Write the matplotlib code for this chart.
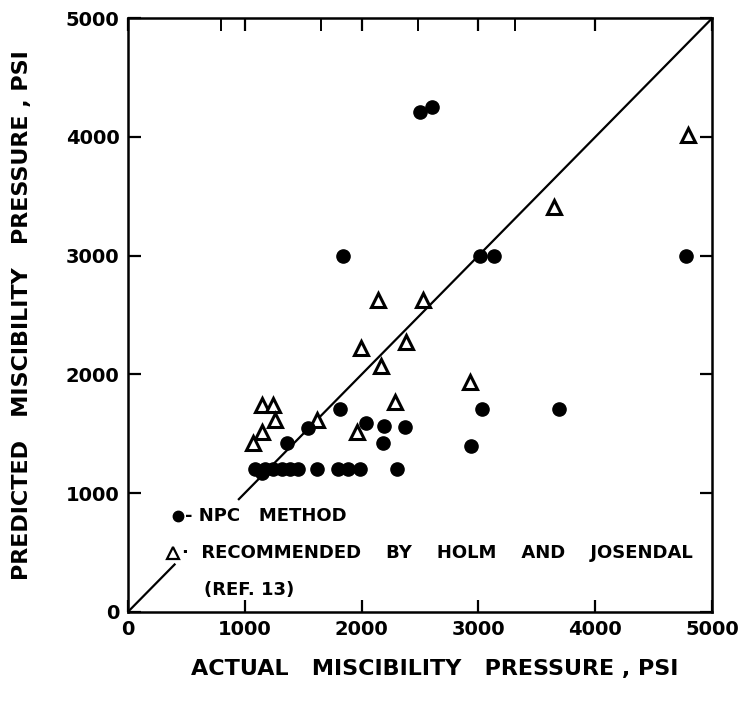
import matplotlib
matplotlib.use("Agg")
import matplotlib.pyplot as plt

# NPC method: actual vs predicted miscibility pressure (psi)
npc_actual = [1840, 2500, 2600, 3010, 3130, 4780,
              3030, 3690, 2940, 1815, 1540, 1360, 2040, 2190, 2370, 2180,
              1090, 1150, 1170, 1240, 1320, 1390, 1460, 1620, 1800, 1880, 1990, 2300]
npc_pred = [3000, 4210, 4250, 3000, 3000, 3000,
            1710, 1710, 1400, 1710, 1550, 1420, 1590, 1570, 1560, 1420,
            1200, 1170, 1200, 1200, 1200, 1200, 1200, 1200, 1200, 1200, 1200, 1200]

# Recommended by Holm and Josendal
hj_actual = [1150, 1240, 1260, 1150, 1070, 1620, 1960, 2290,
             2140, 2530, 1995, 2380, 2165, 2930, 3650, 4790]
hj_pred = [1740, 1740, 1620, 1515, 1420, 1620, 1515, 1770,
           2630, 2630, 2220, 2270, 2070, 1935, 3410, 4015]

ticks = [0, 1000, 2000, 3000, 4000, 5000]
diag_breaks = [(0, 400), (950, 5000)]

plt.rcParams['font.family'] = 'DejaVu Sans'
plt.rcParams['font.weight'] = 'bold'

fig = plt.figure(figsize=(7.52, 7.01), dpi=100)
ax = fig.add_axes([0.170, 0.127, 0.777, 0.847])

# 1:1 line, broken where the key text sits
for a, b in diag_breaks:
    ax.plot([a, b], [a, b], color='black', lw=1.6, zorder=1)

ax.plot(npc_actual, npc_pred, 'o', color='black', markersize=9.5, zorder=3)
ax.plot(hj_actual, hj_pred, '^', markerfacecolor='white', markeredgecolor='black',
        markersize=10, markeredgewidth=2.2, linestyle='none', zorder=2)

ax.set_xlim(0, 5000)
ax.set_ylim(0, 5000)
ax.set_xticks(ticks)
ax.set_yticks(ticks)
ax.tick_params(direction='in', length=9, width=1.6, labelsize=14, pad=6)
ax.tick_params(axis='y', right=True, labelright=False)
ax.tick_params(axis='x', top=True, labeltop=False)
ax.set_xticks([800, 1650, 2480, 3310], minor=True)
ax.tick_params(axis='x', which='minor', top=True, bottom=False, direction='in',
               length=9, width=1.4)
for sp in ax.spines.values():
    sp.set_linewidth(1.8)

ax.set_xlabel('ACTUAL   MISCIBILITY   PRESSURE , PSI', fontsize=16,
              fontweight='bold', labelpad=14)
ax.xaxis.label.set_x(0.525)
ax.set_ylabel('PREDICTED   MISCIBILITY   PRESSURE , PSI', fontsize=16,
              fontweight='bold', labelpad=24)

# hand-drawn key in the lower left corner
ax.plot([0.086], [0.162], 'o', color='black', markersize=7.5, transform=ax.transAxes)
ax.text(0.098, 0.162, '- NPC   METHOD', transform=ax.transAxes, fontsize=13,
        fontweight='bold', va='center')
ax.plot([0.078], [0.100], '^', markerfacecolor='white', markeredgecolor='black',
        markersize=9, markeredgewidth=1.6, transform=ax.transAxes)
ax.text(0.092, 0.100, '·  RECOMMENDED    BY    HOLM    AND    JOSENDAL', transform=ax.transAxes,
        fontsize=13, fontweight='bold', va='center')
ax.text(0.130, 0.037, '(REF. 13)', transform=ax.transAxes, fontsize=13,
        fontweight='bold', va='center')

fig.savefig('out.png', dpi=100)
